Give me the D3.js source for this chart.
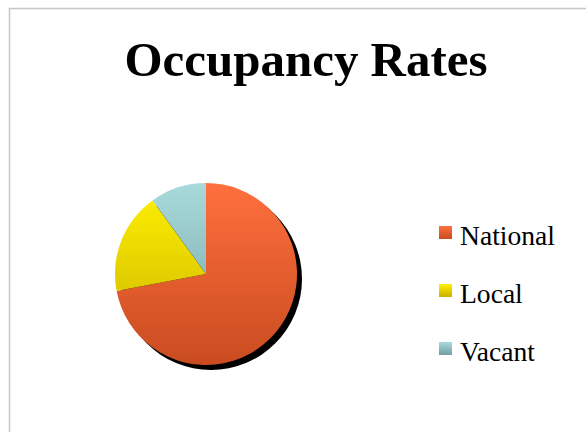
<!DOCTYPE html>
<html>
<head>
<meta charset="utf-8">
<script src="https://cdn.jsdelivr.net/npm/d3@7"></script>
<style>
  body { margin: 0; background: #fff; }
  svg { display: block; }
</style>
</head>
<body>
<svg id="chart"></svg>
<script>
const width = 586;
const height = 432;

const categories = ["National", "Local", "Vacant"];
const values = [72, 18, 10];
const topColors = ["#ff6f3d", "#fff200", "#a8dadc"];
const bottomColors = ["#c94c20", "#c9ae00", "#739fa1"];

const cx = 206, cy = 274, radius = 91;
const fontFamily = "'Liberation Serif', 'DejaVu Serif', serif";

const svg = d3.select("#chart").attr("width", width).attr("height", height);

// chart area border (top and left only visible)
svg.append("line").attr("x1", 9).attr("y1", 8.5).attr("x2", width).attr("y2", 8.5)
  .attr("stroke", "#c6c6c6").attr("stroke-width", 1.5);
svg.append("line").attr("x1", 9.5).attr("y1", 8).attr("x2", 9.5).attr("y2", height)
  .attr("stroke", "#c6c6c6").attr("stroke-width", 1.5);

// title, sized to fill the reference width
const title = svg.append("text")
  .attr("x", 306).attr("y", 76)
  .attr("text-anchor", "middle")
  .style("font-family", fontFamily)
  .style("font-weight", "bold")
  .style("font-size", "44px")
  .attr("fill", "#000")
  .text("Occupancy Rates");
let tw = title.node().getComputedTextLength();
title.style("font-size", (44 * 363 / tw) + "px");

// gradients
const defs = svg.append("defs");
categories.forEach((c, i) => {
  const g = defs.append("linearGradient")
    .attr("id", "grad" + i)
    .attr("gradientUnits", "userSpaceOnUse")
    .attr("x1", 0).attr("y1", -radius)
    .attr("x2", 0).attr("y2", radius);
  g.append("stop").attr("offset", "0%").attr("stop-color", topColors[i]);
  g.append("stop").attr("offset", "100%").attr("stop-color", bottomColors[i]);
  const lg = defs.append("linearGradient")
    .attr("id", "lgrad" + i)
    .attr("x1", 0).attr("y1", 0).attr("x2", 0).attr("y2", 1);
  lg.append("stop").attr("offset", "0%").attr("stop-color", topColors[i]);
  lg.append("stop").attr("offset", "100%").attr("stop-color", bottomColors[i]);
});

// pie
const pie = d3.pie().sort(null).value((d) => d);
const arc = d3.arc().innerRadius(0).outerRadius(radius);

// shadow
svg.append("circle")
  .attr("cx", cx + 5).attr("cy", cy + 5).attr("r", radius)
  .attr("fill", "#000");

svg.append("g")
  .attr("transform", `translate(${cx},${cy})`)
  .selectAll("path")
  .data(pie(values))
  .enter()
  .append("path")
  .attr("d", arc)
  .attr("fill", (d, i) => "url(#grad" + i + ")");

// legend
const legend = svg.append("g");
const rows = legend.selectAll("g")
  .data(categories)
  .enter()
  .append("g")
  .attr("transform", (d, i) => `translate(439, ${226 + i * 58})`);

rows.append("rect")
  .attr("width", 13).attr("height", 13)
  .attr("fill", (d, i) => "url(#lgrad" + i + ")");

const labels = rows.append("text")
  .attr("x", 21).attr("y", 19)
  .style("font-family", fontFamily)
  .style("font-size", "24px")
  .attr("fill", "#000")
  .text((d) => d);
let lw = labels.nodes()[0].getComputedTextLength();
labels.style("font-size", (24 * 95 / lw) + "px");
</script>
</body>
</html>
